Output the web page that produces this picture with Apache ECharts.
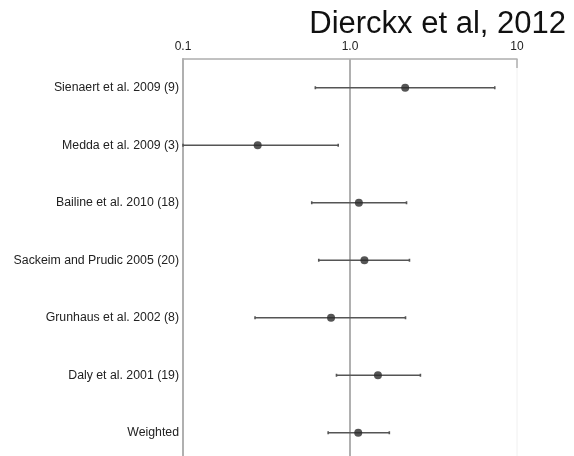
<!DOCTYPE html>
<html>
<head>
<meta charset="utf-8">
<script src="https://cdn.jsdelivr.net/npm/echarts@6/dist/echarts.min.js"></script>
<style>
  html, body { margin: 0; padding: 0; background: #fff; }
  #chart { width: 574px; height: 456px; }
</style>
</head>
<body>
<div id="chart"></div>
<script>
// Studies, top to bottom
var studies = [
  'Sienaert et al. 2009 (9)',
  'Medda et al. 2009 (3)',
  'Bailine et al. 2010 (18)',
  'Sackeim and Prudic 2005 (20)',
  'Grunhaus et al. 2002 (8)',
  'Daly et al. 2001 (19)',
  'Weighted'
];
// Point estimates and confidence limits (ratio scale)
var estimates = [2.14, 0.28, 1.13, 1.22, 0.77, 1.47, 1.12];
var ciLow     = [0.62, 0.10, 0.59, 0.65, 0.27, 0.83, 0.74];
var ciHigh    = [7.36, 0.85, 2.18, 2.27, 2.15, 2.64, 1.72];
// Axis ticks on the log scale
var xTicks = [0.1, 1, 10];
var xTickLabels = ['0.1', '1.0', '10'];

var chart = echarts.init(document.getElementById('chart'), null, { renderer: 'canvas' });

var intervals = studies.map(function (s, i) { return [ciLow[i], ciHigh[i], s]; });
var points = studies.map(function (s, i) { return [estimates[i], s]; });

chart.setOption({
  animation: false,
  backgroundColor: '#fff',
  title: {
    text: 'Dierckx et al, 2012',
    right: 3,
    top: 4,
    textStyle: { fontFamily: 'Liberation Sans, Arial, sans-serif', fontSize: 31, fontWeight: 'normal', color: '#111' }
  },
  grid: {
    left: 183, right: 57, top: 59, height: 402.5,
    outerBoundsMode: 'none',
    containLabel: false,
    show: true, borderColor: '#f0f0f0', borderWidth: 1, backgroundColor: 'transparent'
  },
  xAxis: {
    type: 'log',
    logBase: 10,
    min: 0.1,
    max: 10,
    position: 'top',
    axisLine: { show: true, lineStyle: { color: '#b0b0b0', width: 1.5 } },
    axisTick: { show: true, inside: true, length: 9, lineStyle: { color: '#b0b0b0', width: 1.5 } },
    minorTick: { show: false },
    splitLine: { show: false },
    axisLabel: {
      margin: 6,
      fontFamily: 'Liberation Sans, Arial, sans-serif',
      fontSize: 12,
      color: '#222',
      formatter: function (v) {
        for (var k = 0; k < xTicks.length; k++) {
          if (Math.abs(v - xTicks[k]) < 1e-9) return xTickLabels[k];
        }
        return '';
      }
    }
  },
  yAxis: {
    type: 'category',
    data: studies,
    inverse: true,
    axisLine: { show: true, lineStyle: { color: '#b0b0b0', width: 2 } },
    axisTick: { show: false },
    splitLine: { show: false },
    axisLabel: {
      margin: 4,
      fontFamily: 'Liberation Sans, Arial, sans-serif',
      fontSize: 12.3,
      color: '#222'
    }
  },
  series: [
    {
      // confidence interval whiskers
      type: 'custom',
      dimensions: ['low', 'high', 'study'],
      data: intervals,
      encode: { x: ['low', 'high'], y: 'study' },
      renderItem: function (params, api) {
        var row = params.dataIndex;
        var a = api.coord([api.value(0), row]);
        var b = api.coord([api.value(1), row]);
        var st = { stroke: '#555', lineWidth: 1.6 };
        return {
          type: 'group',
          children: [
            { type: 'line', shape: { x1: a[0], y1: a[1], x2: b[0], y2: b[1] }, style: st },
            { type: 'line', shape: { x1: a[0], y1: a[1] - 1.5, x2: a[0], y2: a[1] + 1.5 }, style: st },
            { type: 'line', shape: { x1: b[0], y1: b[1] - 1.5, x2: b[0], y2: b[1] + 1.5 }, style: st }
          ]
        };
      },
      z: 3
    },
    {
      // point estimates, with the line of no effect at 1.0
      type: 'scatter',
      data: points,
      symbol: 'circle',
      symbolSize: 8,
      itemStyle: { color: '#2a2a2a' },
      markLine: {
        silent: true,
        symbol: 'none',
        label: { show: false },
        lineStyle: { color: '#b0b0b0', width: 2, type: 'solid' },
        data: [{ xAxis: 1 }],
        z: 1
      },
      z: 4
    }
  ]
});
</script>
</body>
</html>
